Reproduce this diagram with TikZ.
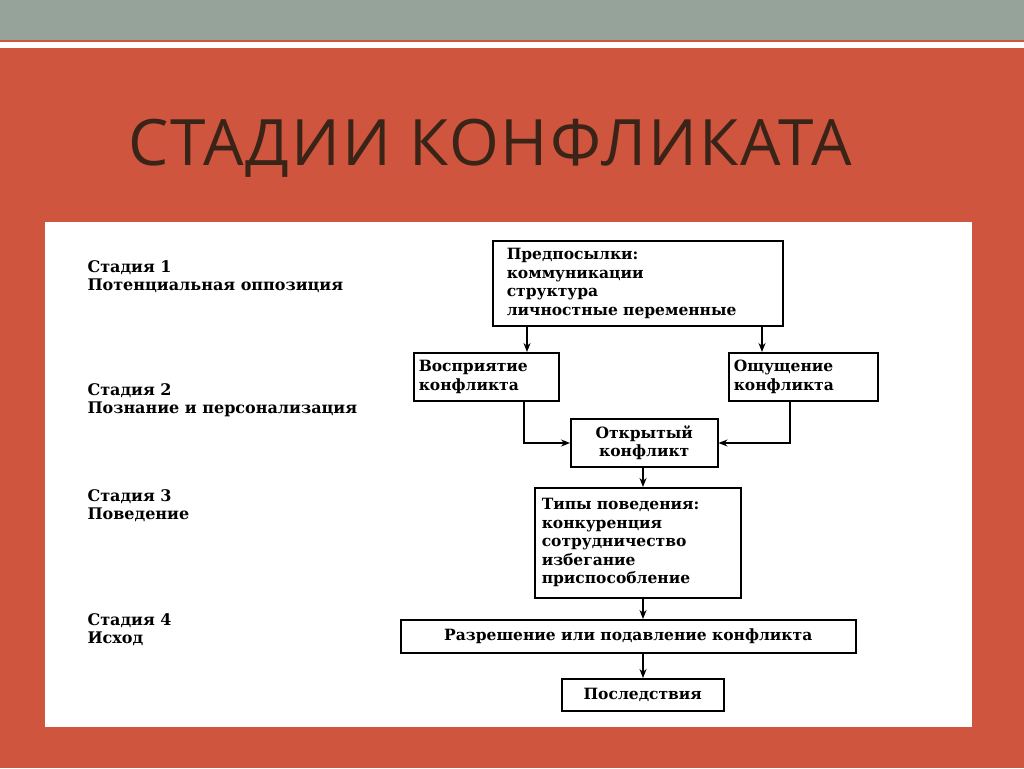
\documentclass[tikz,border=0pt]{standalone}
\usepackage{fontspec}
\setmainfont{Liberation Serif}
\newfontfamily\titlefont[LetterSpace=3]{Open Sans}
\newfontfamily\diafont{DejaVu Serif}
\usetikzlibrary{arrows.meta}
\definecolor{bgred}{HTML}{D0553F}
\definecolor{topgray}{HTML}{95A39B}
\definecolor{titlebrown}{HTML}{3A2418}
\begin{document}
\begin{tikzpicture}[x=1pt,y=-1pt,
  bx/.style={draw,line width=1.5pt,font=\diafont\bfseries\fontsize{15.5}{18.5}\selectfont,inner sep=0pt},
  lbl/.style={anchor=west,font=\diafont\bfseries\fontsize{16}{18}\selectfont,align=left},
  arr/.style={line width=1.3pt,-{Stealth[length=9pt,width=7pt]}}]
\useasboundingbox (0,0) rectangle (1024,768);
\fill[bgred] (0,0) rectangle (1024,768);
\fill[topgray] (0,0) rectangle (1024,40);
\fill[white] (0,42) rectangle (1024,48);
\node[text=titlebrown,font=\titlefont\fontsize{64}{64}\selectfont,anchor=west,inner sep=0pt] (title) at (128,148) {СТАДИИ КОНФЛИКАТА};
\fill[white] (45,222) rectangle (972,727);
% stage labels
\node[lbl] (s1) at (84,277) {Стадия 1\\Потенциальная оппозиция};
\node[lbl] (s2) at (84,400) {Стадия 2\\Познание и персонализация};
\node[lbl] (s3) at (84,506) {Стадия 3\\Поведение};
\node[lbl] (s4) at (84,630) {Стадия 4\\Исход};
% boxes
\node[bx,minimum width=290,minimum height=85,anchor=north west,align=left,text width=262] (pre) at (492,240) {Предпосылки:\\коммуникации\\структура\\личностные переменные};
\node[bx,minimum width=145,minimum height=48,anchor=north west,align=left,text width=135] (vos) at (413,352) {Восприятие\\конфликта};
\node[bx,minimum width=149,minimum height=48,anchor=north west,align=left,text width=139] (osh) at (728,352) {Ощущение\\конфликта};
\node[bx,minimum width=147,minimum height=48,anchor=north west,align=center,text width=140] (otk) at (570,418) {Открытый\\конфликт};
\node[bx,minimum width=206,minimum height=110,anchor=north west,align=left,text width=192] (tip) at (534,487) {Типы поведения:\\конкуренция\\сотрудничество\\избегание\\приспособление};
\node[bx,minimum width=455,minimum height=33,anchor=north west] (raz) at (400,619) {Разрешение или подавление конфликта};
\node[bx,minimum width=162,minimum height=32,anchor=north west] (pos) at (561,678) {Последствия};
% arrows
\draw[arr] (pre.south -| 527,0) -- (vos.north -| 527,0);
\draw[arr] (pre.south -| 762,0) -- (osh.north -| 762,0);
\coordinate (a1) at (524,443);
\coordinate (a2) at (790,443);
\draw[arr] (vos.south -| a1) -- (a1) -- (otk.west |- a1);
\draw[arr] (osh.south -| a2) -- (a2) -- (otk.east |- a2);
\draw[arr] (otk.south -| 643,0) -- (tip.north -| 643,0);
\draw[arr] (tip.south -| 643,0) -- (raz.north -| 643,0);
\draw[arr] (raz.south -| 643,0) -- (pos.north -| 643,0);
\end{tikzpicture}
\end{document}
